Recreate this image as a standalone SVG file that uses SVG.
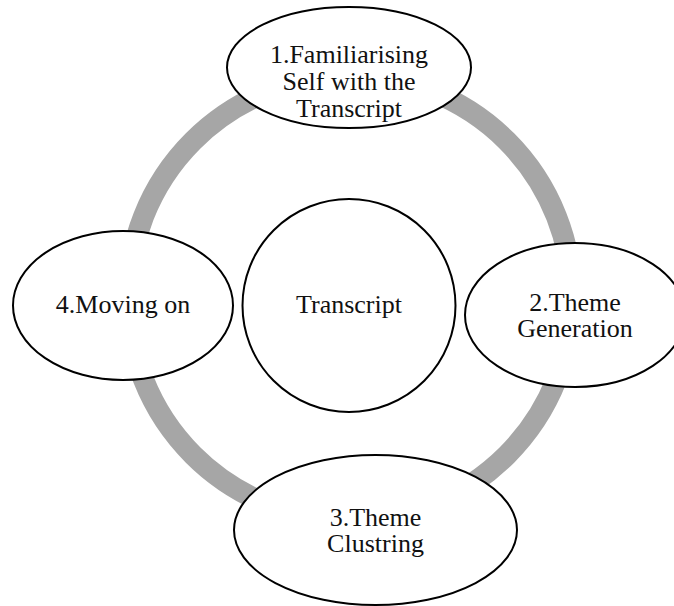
<svg xmlns="http://www.w3.org/2000/svg" width="674" height="606" viewBox="0 0 674 606">
  <style>
    .node { fill: #ffffff; stroke: #000000; stroke-width: 2; }
    .label { font-family: "Liberation Serif", "Times New Roman", serif; font-size: 26px; fill: #111111; text-anchor: middle; }
    .ring { fill: none; stroke: #a6a6a6; stroke-width: 21; }
  </style>
  <rect width="674" height="606" fill="#ffffff"/>

  <!-- cycle ring linking the stages -->
  <g id="connectors">
    <circle class="ring" cx="350" cy="298" r="222"/>
  </g>

  <g id="center">
    <circle class="node" cx="349" cy="305.5" r="106.5"/>
    <text class="label" x="349" y="313">Transcript</text>
  </g>

  <g id="step1">
    <ellipse class="node" cx="349" cy="67.5" rx="122" ry="60.5"/>
    <text class="label" x="349" y="63">1.Familiarising</text>
    <text class="label" x="349" y="90">Self with the</text>
    <text class="label" x="349" y="117">Transcript</text>
  </g>

  <g id="step2">
    <ellipse class="node" cx="575" cy="315" rx="110" ry="72"/>
    <text class="label" x="575" y="311">2.Theme</text>
    <text class="label" x="575" y="337">Generation</text>
  </g>

  <g id="step3">
    <ellipse class="node" cx="375.5" cy="530" rx="141.5" ry="75"/>
    <text class="label" x="375.5" y="526">3.Theme</text>
    <text class="label" x="375.5" y="552">Clustring</text>
  </g>

  <g id="step4">
    <ellipse class="node" cx="123" cy="305.5" rx="110" ry="74.5"/>
    <text class="label" x="123" y="313">4.Moving on</text>
  </g>
</svg>
